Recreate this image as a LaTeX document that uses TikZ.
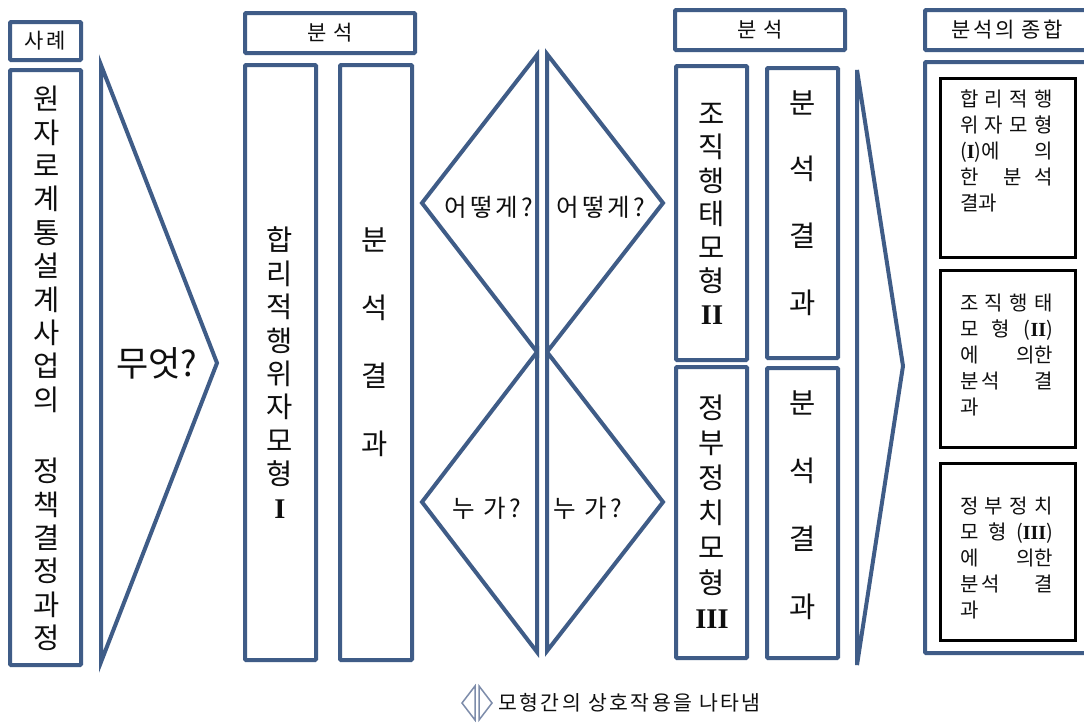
\documentclass[tikz,border=0pt]{standalone}
\usepackage{fontspec}
\setmainfont{Noto Sans CJK KR}
\newfontfamily\krsp{Noto Sans CJK KR}[LetterSpace=12]
\newfontfamily\romf{Liberation Serif}
\definecolor{bl}{RGB}{63,92,135}
\definecolor{lg}{RGB}{125,140,170}
\definecolor{tx}{RGB}{15,15,15}
\newcommand\sline[1]{\makebox[93pt][s]{#1}}
\newcommand\rn[1]{{\romf\bfseries #1}}
\begin{document}
\begin{tikzpicture}[x=1pt,y=-1pt,
 bx/.style={draw=bl, line width=4pt, rounded corners=1pt, inner sep=0pt},
 ibx/.style={draw=black, line width=3pt, inner sep=0pt},
 lbl/.style={text=tx, inner sep=0pt, font=\krsp\fontsize{21}{24}\selectfont},
 vcol/.style={text=tx, align=center, inner sep=0pt, font=\fontsize{28.5}{33.4}\selectfont},
 vres/.style={text=tx, align=center, inner sep=0pt, font=\fontsize{28.5}{68}\selectfont},
 tri/.style={draw=bl, line width=4pt},
 qtxt/.style={text=tx, inner sep=0pt, font=\krsp\fontsize{24.5}{28}\selectfont},
 rtxt/.style={text=tx, inner sep=0pt, text width=93pt, align=left, font=\fontsize{20}{26}\selectfont}]
\fill[white] (0,0) rectangle (1084,728);
\clip (0,0) rectangle (1084,728);
% case column
\node[bx, lbl, minimum width=71pt, minimum height=38pt] (case) at (45.5,41) {사례};
\node[bx, minimum width=71pt, minimum height=595pt] (casebox) at (45.5,367.5) {};
\node[vcol] (casetxt) at (47,368.5) {원\\자\\로\\계\\통\\설\\계\\사\\업\\의\\[38pt]정\\책\\결\\정\\과\\정};
% what chevron
\draw[tri] (101,65) -- (217,363) -- (101,662) -- cycle;
\node[text=tx, inner sep=0pt, font=\fontsize{35}{40}\selectfont] (what) at (157,363) {무엇?};
% analysis 1
\node[bx, lbl, minimum width=170pt, minimum height=40pt] (an1) at (330,33) {분 석};
\node[bx, minimum width=71pt, minimum height=595pt] (m1box) at (280.5,362.5) {};
\node[vcol] (m1txt) at (280,372.5) {합\\리\\적\\행\\위\\자\\모\\형\\\rn{I}};
\node[bx, minimum width=72pt, minimum height=595pt] (r1box) at (376,362.5) {};
\node[vres] (r1txt) at (375,342) {분\\석\\결\\과};
% interaction diamonds
\draw[tri] (537,55) -- (422,203) -- (537,352) -- cycle;
\draw[tri] (537,352) -- (422,502) -- (537,652) -- cycle;
\draw[tri] (547,54) -- (663,203) -- (547,352) -- cycle;
\draw[tri] (547,352) -- (663,502) -- (547,651) -- cycle;
\node[qtxt] (how1) at (489,207) {어떻게?};
\node[qtxt] (how2) at (601,207) {어떻게?};
\node[qtxt] (who1) at (487,508) {누 가?};
\node[qtxt] (who2) at (588,508) {누 가?};
% analysis 2
\node[bx, lbl, minimum width=170pt, minimum height=40pt] (an2) at (760,30) {분 석};
\node[bx, minimum width=71pt, minimum height=294pt] (m2box) at (711.5,213) {};
\node[vcol] (m2txt) at (712,214) {조\\직\\행\\태\\모\\형\\\rn{II}};
\node[bx, minimum width=71pt, minimum height=291pt] (m3box) at (711.5,512.5) {};
\node[vcol, font=\fontsize{28.5}{35}\selectfont] (m3txt) at (712,512) {정\\부\\정\\치\\모\\형\\\rn{III}};
\node[bx, minimum width=71pt, minimum height=290pt] (r2box) at (802.5,213) {};
\node[vres, font=\fontsize{28.5}{66.7}\selectfont] (r2txt) at (803,203) {분\\석\\결\\과};
\node[bx, minimum width=71pt, minimum height=290pt] (r3box) at (802.5,513) {};
\node[vres] (r3txt) at (803,505) {분\\석\\결\\과};
% synthesis chevron
\draw[tri] (857,70) -- (903,366) -- (857,665) -- cycle;
% synthesis
\node[bx, lbl, minimum width=164pt, minimum height=40pt] (sum) at (1007,30) {분석의 종합};
\node[bx, minimum width=170pt, minimum height=591pt] (sumbox) at (1010,357.5) {};
\node[ibx, minimum width=135pt, minimum height=179pt] (s1) at (1007.5,167.5) {};
\node[ibx, minimum width=135pt, minimum height=177pt] (s2) at (1007.5,358.5) {};
\node[ibx, minimum width=135pt, minimum height=177pt] (s3) at (1007.5,551.5) {};
\node[rtxt] (s1txt) at (1006.5,151) {\sline{합\hfill 리\hfill 적\hfill 행}\\\sline{위\hfill 자\hfill 모\hfill 형}\\\sline{(\rn{I})에\hfill 의}\\\sline{한\hfill\hfill 분\hfill 석}\\결과};
\node[rtxt] (s2txt) at (1006.5,355) {\sline{조\hfill 직\hfill 행\hfill 태}\\\sline{모\hfill 형\hfill (\rn{II})}\\\sline{에\hfill 의한}\\\sline{분\,석\hfill 결}\\과};
\node[rtxt] (s3txt) at (1006.5,558.5) {\sline{정\hfill 부\hfill 정\hfill 치}\\\sline{모\hfill 형\hfill (\rn{III})}\\\sline{에\hfill 의한}\\\sline{분\,석\hfill 결}\\과};
% legend
\draw[draw=lg, line width=1.5pt] (475,686) -- (462,703) -- (475,720) -- cycle;
\draw[draw=lg, line width=1.5pt] (479,686) -- (492,703) -- (479,720) -- cycle;
\node[lbl, anchor=west, font=\krsp\fontsize{20.5}{24}\selectfont] (legend) at (498,703) {모형간의 상호작용을 나타냄};
\end{tikzpicture}
\end{document}
